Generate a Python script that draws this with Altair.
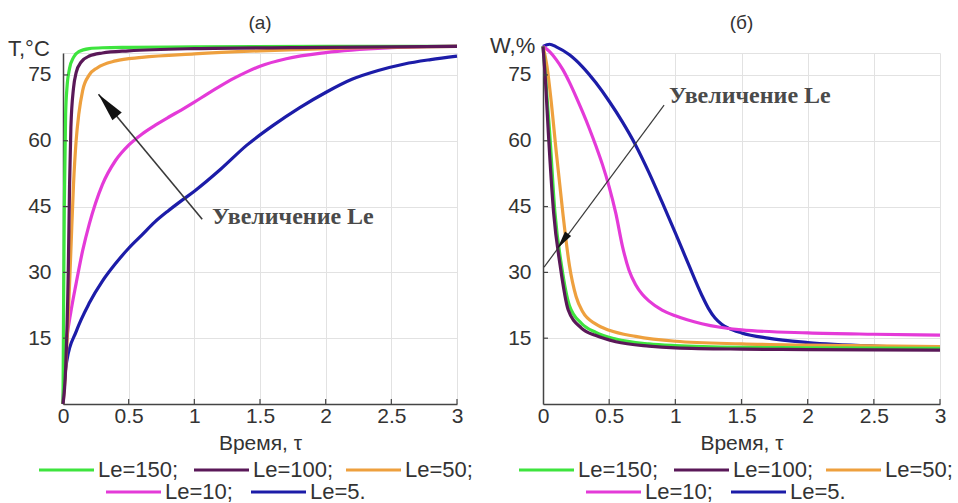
import altair as alt
import pandas as pd

# ---- series definitions -------------------------------------------------
SERIES = ["Le=150", "Le=100", "Le=50", "Le=10", "Le=5"]
LEGEND_LABELS = ["Le=150;", "Le=100;", "Le=50;", "Le=10;", "Le=5."]
COLORS = ["#3ee43e", "#5a1858", "#eea03e", "#e43ad8", "#1c1ca8"]

X_TICKS = [0, 0.5, 1, 1.5, 2, 2.5, 3]
Y_TICKS = [0, 15, 30, 45, 60, 75, 80]
INNER_X_TICKS = [0.5, 1, 1.5, 2, 2.5, 3]
INNER_Y_TICKS = [15, 30, 45, 60, 75]

# ---- (а) temperature T, °C versus time ----------------------------------
T150_t = [0, 0.005, 0.01, 0.02, 0.03, 0.05, 0.08, 0.12, 0.2, 0.3, 0.5, 1.0, 2.0, 3.0]
T150_v = [0, 25, 45, 66, 72, 76.5, 79, 80.3, 81, 81.2, 81.3, 81.4, 81.5, 81.5]

T100_t = [0, 0.02, 0.04, 0.05, 0.06, 0.08, 0.1, 0.14, 0.2, 0.3, 0.5, 1.0, 2.0, 3.0]
T100_v = [0, 8, 30, 50, 63, 72, 75.5, 78, 79.3, 80, 80.5, 81, 81.3, 81.5]

T50_t = [0, 0.02, 0.04, 0.06, 0.08, 0.1, 0.12, 0.15, 0.2, 0.26, 0.4, 0.6, 1.0, 1.5, 2.0, 3.0]
T50_v = [0, 8, 20, 35, 50, 60, 66, 71.5, 75, 76.6, 78.2, 79, 79.8, 80.5, 81, 81.5]

T10_t = [0, 0.01, 0.03, 0.06, 0.1, 0.15, 0.2, 0.3, 0.4, 0.5, 0.6, 0.7, 0.8, 0.9,
         1.0, 1.1, 1.2, 1.3, 1.4, 1.5, 1.7, 2.0, 2.5, 3.0]
T10_v = [0, 8, 15, 21, 27.5, 35, 41, 50, 55.5, 59, 61.5, 63.5, 65.3, 67,
         68.8, 70.7, 72.5, 74.2, 75.7, 77, 78.7, 80.1, 81.2, 81.6]

T5_t = [0, 0.01, 0.03, 0.1, 0.2, 0.3, 0.4, 0.5, 0.6, 0.7, 0.8, 0.9, 1.0,
        1.2, 1.4, 1.6, 1.8, 2.0, 2.2, 2.4, 2.6, 2.8, 3.0]
T5_v = [0, 5, 10, 16.5, 23, 28, 32, 35.5, 38.5, 41.5, 44, 46.3, 48.5,
        53.5, 59, 63.5, 67.5, 71, 74, 76, 77.5, 78.5, 79.3]

# ---- (б) moisture W, % versus time ---------------------------------------
W150_t = [0, 0.02, 0.05, 0.09, 0.14, 0.2, 0.29, 0.4, 0.55, 0.8, 1.0, 1.5, 2.0, 3.0]
W150_v = [81.5, 74, 62, 43.7, 31.5, 22.4, 18.4, 16.3, 14.8, 13.7, 13.3, 12.9, 12.8, 12.7]

W100_t = [0, 0.02, 0.04, 0.08, 0.13, 0.19, 0.29, 0.4, 0.55, 0.8, 1.0, 1.5, 2.0, 3.0]
W100_v = [81.5, 73, 62, 43.7, 31.5, 21.5, 17.3, 15.6, 14.2, 13.2, 12.8, 12.5, 12.4, 12.3]

W50_t = [0, 0.03, 0.06, 0.1, 0.15, 0.2, 0.25, 0.3, 0.4, 0.5, 0.7, 1.0, 1.5, 2.0, 3.0]
W50_v = [81.5, 77, 69.5, 57.5, 43.5, 31.5, 24.5, 21, 18.2, 16.8, 15.4, 14.3, 13.7, 13.4, 13.1]

W10_t = [0, 0.05, 0.1, 0.15, 0.2, 0.25, 0.3, 0.35, 0.4, 0.45, 0.5, 0.55, 0.6,
         0.65, 0.7, 0.75, 0.8, 0.9, 1.0, 1.2, 1.5, 2.0, 2.5, 3.0]
W10_v = [81.5, 80.3, 78.5, 76.2, 73.3, 70, 66.5, 62.8, 58.8, 54.5, 49.5, 43.5, 36,
         30.5, 27.2, 25, 23.5, 21.4, 20.1, 18.3, 16.9, 16.2, 15.9, 15.7]

W5_t = [0, 0.05, 0.1, 0.2, 0.3, 0.4, 0.5, 0.6, 0.7, 0.8, 0.9, 1.0, 1.1, 1.2,
        1.25, 1.3, 1.35, 1.4, 1.5, 1.7, 2.0, 2.5, 3.0]
W5_v = [81.5, 82, 81.4, 79.6, 76.8, 73.2, 69, 64.3, 59, 52.8, 46, 39, 31.8, 24.8,
        21.8, 19.6, 18.2, 17.3, 16.2, 15, 14, 13.2, 12.9]

# annotation arrows: start of the shaft, arrow tip, label anchor
ANNOT_TEXT = "Увеличение Le"
T_ARROW = {"t": [1.06, 0.27], "v": [42.1, 70.6]}
T_LABEL = {"t": [1.135], "v": [42.6]}
W_ARROW = {"t": [0.915, 0.008], "v": [68.1, 31.2]}
W_HEAD = {"t": [0.11], "v": [35.5]}
W_LABEL = {"t": [0.952], "v": [70.1]}

SANS = "Liberation Sans"
SERIF = "Liberation Serif"
TXT = "#333333"
H = 351

# arrowhead with its tip at the symbol origin, pointing up before rotation
ARROW_PATH = "M0,0L0.42,2L-0.42,2Z"


def curve_frame(t, v):
    return pd.DataFrame({"t": t, "v": v})


def legend_layers():
    # two centred rows: three items, then two items
    starts = [-24, 131, 283, 43, 188]
    row_y = [H + 66, H + 66, H + 66, H + 88, H + 88]
    df = pd.DataFrame({
        "lab": LEGEND_LABELS,
        "col": COLORS,
        "x0": starts,
        "x1": [s + 55 for s in starts],
        "tx": [s + 59 for s in starts],
        "ly": row_y,
    })
    lines = alt.Chart(df).mark_rule(strokeWidth=3).encode(
        x=alt.X("x0:Q", scale=None, axis=None),
        x2="x1:Q",
        y=alt.Y("ly:Q", scale=None, axis=None),
        color=alt.Color("col:N", scale=None),
    )
    labels = alt.Chart(df).mark_text(
        align="left", baseline="middle", font=SANS, fontSize=22, color=TXT
    ).encode(
        x=alt.X("tx:Q", scale=None, axis=None),
        y=alt.Y("ly:Q", scale=None, axis=None),
        text="lab:N",
    )
    return [lines, labels]


def panel(curves, width, panel_title, y_title, y_title_pos, arrow, label,
          head, head_angle, head_size, arrow_width):
    xs = alt.Scale(domain=[0, 3], nice=False, zero=False)
    ys = alt.Scale(domain=[0, 80], nice=False)
    xaxis = alt.Axis(values=X_TICKS, format="~g", title="Время, τ",
                     labelFlush=False, ticks=False, tickSize=0,
                     labelPadding=1, titlePadding=6)
    yaxis = alt.Axis(values=Y_TICKS, title=None, ticks=False, tickSize=0,
                     labelPadding=12,
                     labelExpr="datum.value == 0 || datum.value == 80 ? '' : datum.label")
    xenc = alt.X("t:Q", scale=xs, axis=xaxis)
    yenc = alt.Y("v:Q", scale=ys, axis=yaxis)

    layers = []
    # draw order: slowest series first, Le=100 on top
    for idx in [4, 3, 2, 0, 1]:
        t, v = curves[idx]
        layers.append(
            alt.Chart(curve_frame(t, v)).mark_line(
                color=COLORS[idx], strokeWidth=3.2, interpolate="monotone"
            ).encode(x=xenc, y=yenc)
        )

    # small inward ticks on both axes
    layers.append(
        alt.Chart(pd.DataFrame({"t": INNER_X_TICKS})).mark_rule(
            color="#444444", strokeWidth=1.2
        ).encode(x=xenc, y=alt.value(H), y2=alt.value(H - 5))
    )
    layers.append(
        alt.Chart(pd.DataFrame({"v": INNER_Y_TICKS})).mark_rule(
            color="#444444", strokeWidth=1.2
        ).encode(y=yenc, x=alt.value(0), x2=alt.value(5))
    )

    # annotation arrow and label
    layers.append(
        alt.Chart(pd.DataFrame(arrow)).mark_line(
            color="#3a3a3a", strokeWidth=arrow_width
        ).encode(x=xenc, y=yenc)
    )
    layers.append(
        alt.Chart(pd.DataFrame(head)).mark_point(
            shape=ARROW_PATH, filled=True, color="#111111", opacity=1,
            size=head_size, angle=head_angle, strokeWidth=0
        ).encode(x=xenc, y=yenc)
    )
    layers.append(
        alt.Chart(pd.DataFrame(label)).mark_text(
            text=ANNOT_TEXT, align="left", baseline="middle", font=SERIF,
            fontSize=24, fontWeight="bold", color="#4a4a4a"
        ).encode(x=xenc, y=yenc)
    )

    # panel letter and vertical-axis caption
    layers.append(
        alt.Chart(pd.DataFrame({"s": [panel_title]})).mark_text(
            align="center", baseline="middle", font=SANS, fontSize=19, color=TXT
        ).encode(text="s:N", x=alt.value(width / 2), y=alt.value(-30))
    )
    layers.append(
        alt.Chart(pd.DataFrame({"s": [y_title]})).mark_text(
            align="left", baseline="middle", font=SANS, fontSize=22, color=TXT
        ).encode(text="s:N", x=alt.value(y_title_pos[0]), y=alt.value(y_title_pos[1]))
    )

    layers.extend(legend_layers())
    return alt.layer(*layers).properties(width=width, height=H)


T_curves = [(T150_t, T150_v), (T100_t, T100_v), (T50_t, T50_v),
            (T10_t, T10_v), (T5_t, T5_v)]
W_curves = [(W150_t, W150_v), (W100_t, W100_v), (W50_t, W50_v),
            (W10_t, W10_v), (W5_t, W5_v)]

left = panel(T_curves, 394, "(а)", "T,°C", (-55, -4),
             T_ARROW, T_LABEL, {"t": [T_ARROW["t"][1]], "v": [T_ARROW["v"][1]]},
             320, 840, 1.6)
right = panel(W_curves, 397, "(б)", "W,%", (-53, -7),
              W_ARROW, W_LABEL, W_HEAD, 216, 320, 1.2)

chart = alt.hconcat(left, right, spacing=17).properties(
    padding={"left": 8, "top": 14, "right": 5, "bottom": 0},
    background="white",
).configure_view(strokeWidth=0).configure_axis(
    labelFont=SANS, labelFontSize=21, labelColor=TXT,
    titleFont=SANS, titleFontSize=21, titleColor=TXT, titleFontWeight="normal",
    domainColor="#444444", domainWidth=1.5,
    gridColor="#e2e2e2", gridWidth=1,
)

chart.save("out.html", embed_options={"renderer": "svg", "actions": False})
